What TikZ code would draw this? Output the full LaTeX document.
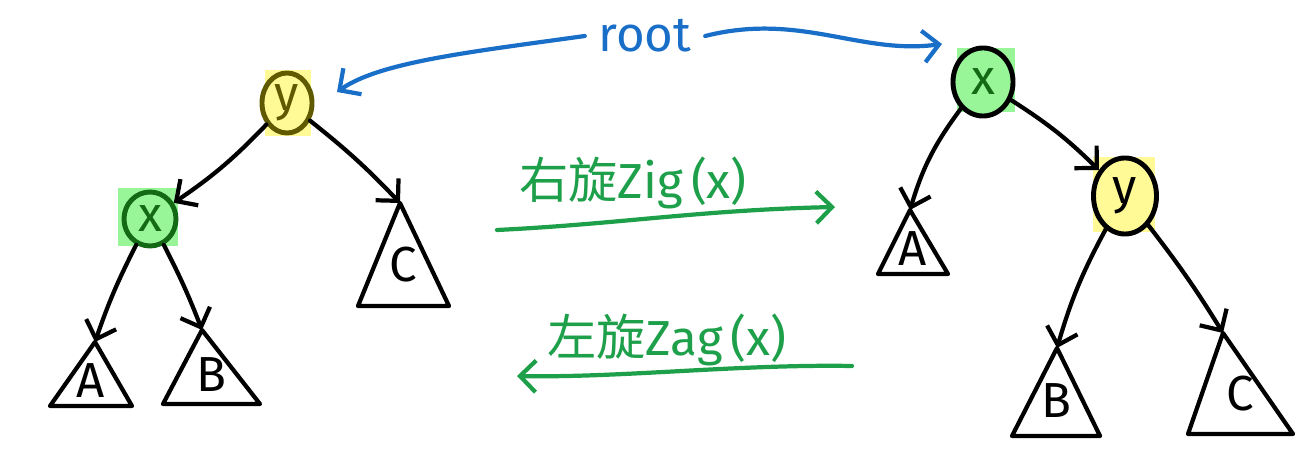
\documentclass[tikz,border=0pt]{standalone}
\usepackage{fontspec}
\setmainfont{Fira Sans}
\newfontfamily\cjk{Noto Sans CJK SC}
\usetikzlibrary{arrows.meta,shapes.geometric}
\definecolor{rootblue}{RGB}{25,110,200}
\definecolor{rotgreen}{RGB}{30,160,75}
\definecolor{hlgreen}{RGB}{152,245,152}
\definecolor{hlyellow}{RGB}{255,250,150}
\definecolor{keygreen}{RGB}{20,105,20}
\definecolor{keyolive}{RGB}{95,90,0}
\tikzset{
  keynode/.style={ellipse, draw, line width=1.4pt, inner sep=0pt},
  edge/.style={->, line width=1.2pt}
}
\begin{document}
\begin{tikzpicture}[x=0.01cm, y=-0.01cm, >={Straight Barb[length=4.5pt,width=9pt]}, line width=1.2pt, line join=round, line cap=round, font=\fontsize{14}{16}\selectfont]
	\useasboundingbox (0,0) rectangle (1315,449);
	% highlights
	\fill[hlyellow] (265,70) rectangle (311,136);
	\fill[hlgreen] (118,188) rectangle (178,246);
	\fill[hlgreen] (957,48) rectangle (1015,112);
	\fill[hlyellow] (1093,157) rectangle (1155,232);
	% keys
	\node[keynode, fill=hlyellow, draw=keyolive, text=keyolive, minimum width=0.5cm, minimum height=0.6cm] (ly) at (287,103) {y};
	\node[keynode, fill=hlgreen, draw=keygreen, text=keygreen, minimum width=0.52cm, minimum height=0.54cm] (lx) at (150,219) {x};
	\node[keynode, fill=hlgreen, draw=black, text=keygreen, minimum width=0.6cm, minimum height=0.68cm] (rx) at (983,82) {x};
	\node[keynode, fill=hlyellow, draw=black, minimum width=0.63cm, minimum height=0.76cm] (ry) at (1125,196) {y};
	% subtrees
	\foreach \n/\ax/\ay/\lx/\rx/\by/\t in {lA/95/342/50/132/406/A, lB/202/330/163/260/404/B, lC/400/203/358/449/306/C,
		rA/910/210/878/948/274/A, rB/1057/348/1012/1100/436/B, rC/1223/333/1188/1293/434/C}{
		\coordinate (\n) at (\ax,\ay);
		\draw (\n) -- (\lx,\by) -- (\rx,\by) -- cycle;
		\node (\n-lbl) at ({(\lx+\rx)/2},{\by-0.4*(\by-\ay)}) {\t};
	}
	% tree edges
	\draw[edge] (ly) to[bend left=6] (lx);
	\draw[edge] (ly) to[bend left=4] (lC);
	\draw[edge] (lx) to[bend right=4] (lA);
	\draw[edge] (lx) to[bend left=3] (lB);
	\draw[edge] (rx) to[bend right=10] (rA);
	\draw[edge] (rx) to[bend left=6] (ry);
	\draw[edge] (ry) to[bend right=6] (rB);
	\draw[edge] (ry) to[bend left=3] (rC);
	% root
	\node[text=rootblue] (root) at (645,36) {root};
	\coordinate (rootL) at (337,92);
	\coordinate (rootR) at (942,44);
	\draw[rootblue, ->] (root.west) .. controls (470,52) and (380,62) .. (rootL);
	\draw[rootblue, ->] (root.east) .. controls (800,12) and (860,55) .. (rootR);
	% rotations
	\coordinate (zigS) at (497,230);
	\coordinate (zigE) at (835,207);
	\coordinate (zagS) at (852,366);
	\coordinate (zagE) at (517,376);
	\node[text=rotgreen] (zig) at (633,183) {{\cjk 右旋}Zig\,(x)};
	\node[text=rotgreen] (zag) at (667,340) {{\cjk 左旋}Zag\,(x)};
	\draw[rotgreen, ->] (zigS) .. controls (620,224) and (700,210) .. (zigE);
	\draw[rotgreen, ->] (zagS) .. controls (740,364) and (620,378) .. (zagE);
\end{tikzpicture}
\end{document}
